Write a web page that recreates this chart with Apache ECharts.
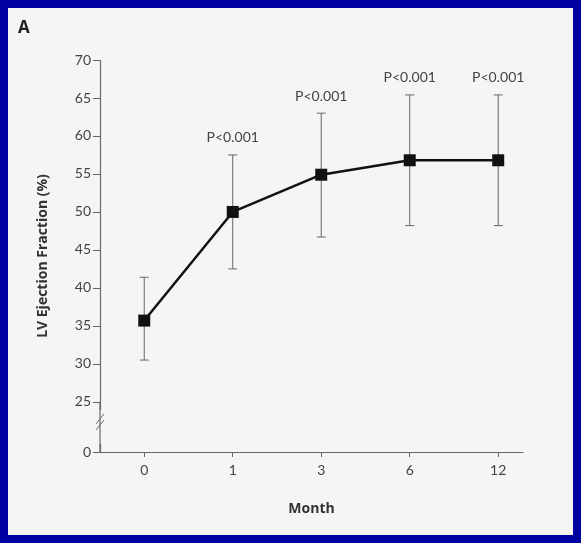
<!DOCTYPE html>
<html>
<head>
<meta charset="utf-8">
<script src="https://cdn.jsdelivr.net/npm/echarts@6/dist/echarts.min.js"></script>
<style>
html,body{margin:0;padding:0;background:#0000a0;}
#c{width:581px;height:543px;}
</style>
</head>
<body>
<div id="c"></div>
<script>
var months = ['0', '1', '3', '6', '12'];
var meanEF = [35.7, 50.0, 54.9, 56.8, 56.8];
var upperEF = [41.4, 57.5, 63.0, 65.4, 65.4];
var lowerEF = [30.5, 42.5, 46.7, 48.2, 48.2];
var pLabels = ['', 'P<0.001', 'P<0.001', 'P<0.001', 'P<0.001'];
var yTicks = [0, 25, 30, 35, 40, 45, 50, 55, 60, 65, 70];

var chart = echarts.init(document.getElementById('c'), null, {renderer: 'canvas'});

var lineData = meanEF.map(function (v, i) { return [i, v]; });
var errData = meanEF.map(function (v, i) { return [i, lowerEF[i], upperEF[i]]; });
var FONT = 'Lato';

var baseGraphics = [
  {id: 'bg', type: 'rect', z: -10, silent: true, shape: {x: 8, y: 8, width: 565, height: 527}, style: {fill: '#f5f5f5'}},
  {id: 'A', type: 'text', left: 18, top: 20, style: {text: 'A', font: 'bold 17px "Open Sans"', fill: '#222'}}
];

var option = {
  backgroundColor: 'transparent',
  animation: false,
  textStyle: {fontFamily: FONT},
  graphic: baseGraphics,
  grid: {left: 100, right: 58, top: 60, bottom: 91, containLabel: false},
  xAxis: {
    type: 'value', min: -0.5, max: 4.28,
    axisLine: {onZero: false, lineStyle: {color: '#666', width: 1.2}},
    axisTick: {show: true, length: 5, inside: false, customValues: [0, 1, 2, 3, 4], lineStyle: {color: '#666'}},
    splitLine: {show: false},
    axisLabel: {customValues: [0, 1, 2, 3, 4], formatter: function (v) { return months[Math.round(v)]; }, color: '#444', fontSize: 14, margin: 11, fontFamily: FONT},
    name: 'Month', nameLocation: 'middle', nameGap: 50,
    nameTextStyle: {fontFamily: '"Open Sans"', fontWeight: 'bold', fontSize: 14, color: '#333'}
  },
  yAxis: {
    type: 'value', min: 0, max: 70, interval: 5,
    breaks: [{start: 1, end: 24, gap: 4.6}],
    breakArea: {show: false, itemStyle: {opacity: 0}},
    axisLine: {show: true, onZero: false, lineStyle: {color: '#666', width: 1.2}},
    axisTick: {show: true, length: 7, customValues: yTicks, lineStyle: {color: '#666'}},
    splitLine: {show: false},
    axisLabel: {customValues: yTicks, color: '#444', fontSize: 14, margin: 9, fontFamily: FONT},
    name: 'LV Ejection Fraction (%)', nameLocation: 'middle', nameGap: 50, nameRotate: 90,
    nameTextStyle: {fontFamily: '"Open Sans"', fontWeight: 'bold', fontSize: 14, color: '#333'}
  },
  series: [
    {
      type: 'custom',
      data: errData,
      z: 2,
      renderItem: function (params, api) {
        var x = api.value(0), lo = api.value(1), hi = api.value(2);
        var pHi = api.coord([x, hi]), pLo = api.coord([x, lo]);
        var cap = 4.5;
        var st = {stroke: '#666', lineWidth: 1};
        var children = [
          {type: 'line', shape: {x1: pHi[0], y1: pHi[1], x2: pLo[0], y2: pLo[1]}, style: st},
          {type: 'line', shape: {x1: pHi[0] - cap, y1: pHi[1], x2: pHi[0] + cap, y2: pHi[1]}, style: st},
          {type: 'line', shape: {x1: pLo[0] - cap, y1: pLo[1], x2: pLo[0] + cap, y2: pLo[1]}, style: st}
        ];
        var lab = pLabels[params.dataIndex];
        if (lab) {
          children.push({type: 'text', style: {text: lab, x: pHi[0], y: pHi[1] - 10, align: 'center', verticalAlign: 'bottom', font: '14px ' + FONT, fill: '#444'}});
        }
        return {type: 'group', children: children};
      }
    },
    {
      type: 'line',
      data: lineData,
      z: 3,
      symbol: 'rect', symbolSize: 12,
      itemStyle: {color: '#111'},
      lineStyle: {color: '#111', width: 2.5}
    }
  ]
};
chart.setOption(option);

// axis-break marks "//" and continuous axis line through the break
var p0 = chart.convertToPixel({yAxisIndex: 0}, 0);
var p25 = chart.convertToPixel({yAxisIndex: 0}, 25);
var ax = chart.convertToPixel({xAxisIndex: 0}, -0.5);
var cy = p25 + (p0 - p25) * 0.4;
chart.setOption({graphic: baseGraphics.concat([
  {id: 'axfill', type: 'line', z: 5, shape: {x1: ax, y1: p25, x2: ax, y2: p0}, style: {stroke: '#666', lineWidth: 1.2}},
  {id: 'brk1', type: 'line', z: 6, shape: {x1: ax - 4, y1: cy + 2, x2: ax + 4, y2: cy - 8}, style: {stroke: '#666', lineWidth: 1}},
  {id: 'brk2', type: 'line', z: 6, shape: {x1: ax - 4, y1: cy + 8, x2: ax + 4, y2: cy - 2}, style: {stroke: '#666', lineWidth: 1}}
])});
</script>
</body>
</html>
